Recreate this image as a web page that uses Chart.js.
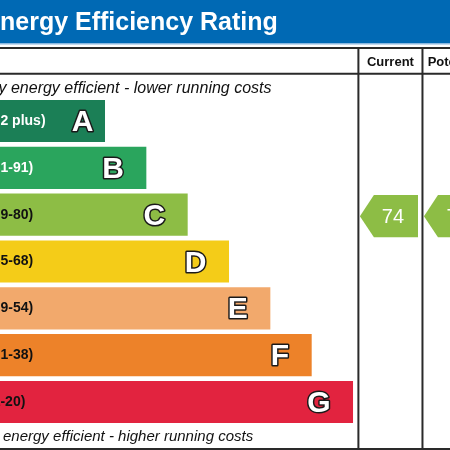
<!DOCTYPE html>
<html>
<head>
<meta charset="utf-8">
<script src="https://cdn.jsdelivr.net/npm/chart.js@4"></script>
<style>
  html, body { margin: 0; padding: 0; background: #fff; overflow: hidden; }
  #wrap { position: relative; width: 450px; height: 450px; overflow: hidden; }
  #epc { position: absolute; left: -30px; top: 0; }
</style>
</head>
<body>
<div id="wrap"><canvas id="epc" width="480" height="450"></canvas></div>
<script>
const bands = ['A', 'B', 'C', 'D', 'E', 'F', 'G'];
const bandRanges = ['(92 plus)', '(81-91)', '(69-80)', '(55-68)', '(39-54)', '(21-38)', '(1-20)'];
const bandMin = [92, 81, 69, 55, 39, 21, 1];
const bandLength = [3, 4, 5, 6, 7, 8, 9];
const scoreColumns = ['Current', 'Potential'];
const scores = [74, 78];

const bandColors = ['#1b7f56', '#2aa55d', '#8dbd45', '#f4cc18', '#f2a96c', '#ed8229', '#e2233f'];
const FONT = '"Liberation Sans", Arial, sans-serif';
const COLS = [9.13, 10.68, 12.26]; // column edges, in bar units

const epcFrame = {
  id: 'epcFrame',
  beforeDraw(chart) {
    const c = chart.ctx, w = chart.width;
    c.save();
    c.fillStyle = '#fff';
    c.fillRect(0, 0, w, chart.height);
    // title bar
    c.fillStyle = '#0069b4';
    c.fillRect(0, 0, w, 43);
    c.fillStyle = '#8ab8e0';
    c.fillRect(0, 43, w, 1.5);
    c.fillStyle = '#fff';
    c.font = 'bold 25px ' + FONT;
    c.textBaseline = 'alphabetic';
    c.fillText('Energy Efficiency Rating', 13.3, 29.5);
    // captions
    c.fillStyle = '#111';
    c.font = 'italic 16px ' + FONT;
    c.fillText('Very energy efficient - lower running costs', 4.2, 92.5);
    c.font = 'italic 15px ' + FONT;
    c.fillText('Not energy efficient - higher running costs', 5.5, 440.5);
    c.restore();
  },
  afterDatasetsDraw(chart) {
    const c = chart.ctx, meta = chart.getDatasetMeta(0);
    c.save();
    meta.data.forEach((bar, i) => {
      c.font = 'bold 14px ' + FONT;
      c.textBaseline = 'middle';
      c.textAlign = 'left';
      c.fillStyle = i < 2 ? '#fff' : '#111';
      c.fillText(bandRanges[i], bar.base + 7, bar.y);
      c.font = 'bold 30px ' + FONT;
      c.textAlign = 'right';
      c.textBaseline = 'alphabetic';
      c.lineJoin = 'round';
      c.lineWidth = 3;
      c.strokeStyle = '#1a1a1a';
      const lx = bar.x - (i === 0 ? 11.5 : 22.5);
      c.strokeText(bands[i], lx, bar.y + 10);
      c.fillStyle = '#fff';
      c.fillText(bands[i], lx, bar.y + 10);
    });
    c.restore();
  },
  afterDraw(chart) {
    const c = chart.ctx, w = chart.width, h = chart.height;
    const xs = chart.scales.x, meta = chart.getDatasetMeta(0);
    c.save();
    c.strokeStyle = '#2a2a2a';
    c.lineWidth = 2;
    c.beginPath();
    c.moveTo(0, 48); c.lineTo(w, 48);
    c.moveTo(0, 73.7); c.lineTo(w, 73.7);
    c.moveTo(0, 449); c.lineTo(w, 449);
    COLS.forEach(v => {
      const px = xs.getPixelForValue(v);
      c.moveTo(px, 48); c.lineTo(px, h);
    });
    c.stroke();
    // column headers + score arrows
    scores.forEach((s, k) => {
      const left = xs.getPixelForValue(COLS[k]), right = xs.getPixelForValue(COLS[k + 1]);
      c.fillStyle = '#111';
      c.font = 'bold 13px ' + FONT;
      c.textAlign = 'center';
      c.textBaseline = 'alphabetic';
      c.fillText(scoreColumns[k], (left + right) / 2, 65.5);

      const row = bandMin.findIndex(m => s >= m);
      const bar = meta.data[row];
      const x0 = left + 1.5, x1 = right - 4.5;
      const yc = bar.y + 1.5, hh = bar.height / 2;
      c.beginPath();
      c.moveTo(x0, yc);
      c.lineTo(x0 + 14, yc - hh);
      c.lineTo(x1, yc - hh);
      c.lineTo(x1, yc + hh);
      c.lineTo(x0 + 14, yc + hh);
      c.closePath();
      c.fillStyle = bandColors[row];
      c.fill();
      c.fillStyle = '#fff';
      c.font = '20px ' + FONT;
      c.fillText(String(s), (x0 + x1) / 2 + 4, yc + 7);
    });
    c.restore();
  }
};

new Chart(document.getElementById('epc'), {
  type: 'bar',
  data: {
    labels: bands,
    datasets: [{
      data: bandLength,
      backgroundColor: bandColors,
      borderWidth: 0,
      barPercentage: 0.9,
      categoryPercentage: 1
    }]
  },
  options: {
    indexAxis: 'y',
    responsive: false,
    animation: false,
    devicePixelRatio: 1,
    layout: { padding: { left: 11, right: 14.3, top: 97.6, bottom: 24.6 } },
    scales: {
      x: { type: 'linear', min: 0, max: 11, display: false },
      y: { display: false }
    },
    plugins: { legend: { display: false }, tooltip: { enabled: false } }
  },
  plugins: [epcFrame]
});
</script>
</body>
</html>
